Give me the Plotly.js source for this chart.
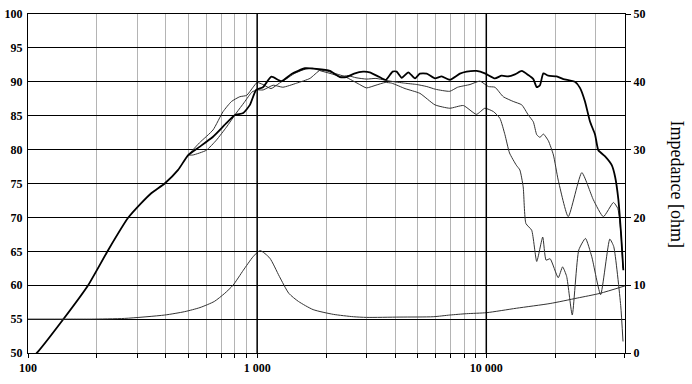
<!DOCTYPE html>
<html>
<head>
<meta charset="utf-8">
<script src="https://cdn.plot.ly/plotly-3.0.1.min.js"></script>
<style>html,body{margin:0;padding:0;background:#fff;}#chart{width:692px;height:384px;}</style>
</head>
<body>
<div id="chart"></div>
<script>
// ---- data ----
const freqOn = [105, 110.6, 142, 183, 224, 273, 312, 346, 395, 452, 500, 560, 642, 734, 800, 870, 930, 990, 1060, 1154, 1276, 1413, 1618, 1816, 2077, 2295, 2450, 2650, 2900, 3100, 3420, 3650, 3900, 4064, 4276, 4566, 4885, 5130, 5495, 5970, 6385, 6935, 7670, 8205, 9075, 9860, 10910, 11660, 12470, 13340, 14280, 15250, 16040, 16600, 17150, 17740, 18660, 20280, 21680, 24380, 25630, 26960, 28370, 29840, 30830, 32990, 35280, 36480, 37710, 38730, 39630];
const splOn = [49.4, 50.2, 54.9, 60.0, 65.2, 69.9, 72.1, 73.6, 75.0, 77.0, 79.2, 80.4, 81.9, 83.9, 85.1, 85.4, 86.6, 88.8, 89.2, 90.75, 90.1, 91.15, 92.0, 91.9, 91.6, 90.7, 90.7, 91.2, 91.5, 91.4, 90.7, 90.3, 91.5, 91.5, 90.6, 91.4, 90.5, 91.2, 91.2, 90.5, 90.8, 90.3, 91.2, 91.5, 91.6, 91.25, 90.5, 90.9, 90.8, 91.1, 91.6, 91.0, 90.4, 89.2, 89.5, 91.25, 90.9, 90.8, 90.4, 90.0, 89.1, 87.1, 84.1, 82.2, 79.9, 79.0, 77.7, 76.0, 72.6, 67.6, 62.2];

const freqOff1 = [500, 560, 642, 710, 773, 840, 900, 960, 1000, 1060, 1150, 1250, 1350, 1450, 1600, 1750, 1900, 2100, 2300, 2500, 2700, 3000, 3300, 3800, 4400, 4970, 5500, 6000, 6930, 7500, 8490, 9380, 10210, 10910, 11860, 13110, 14280, 15250, 16040, 16600, 17150, 17740, 18660, 19630, 20600, 22780, 26110, 29320, 32420, 35870, 37500, 38700, 39500];
const splOff1 = [79.2, 81.0, 82.9, 85.6, 87.1, 87.8, 88.0, 89.2, 89.9, 89.6, 89.0, 89.8, 90.5, 91.2, 91.8, 92.0, 91.6, 91.2, 90.8, 90.9, 90.6, 90.4, 90.5, 90.1, 89.8, 89.6, 89.3, 88.9, 88.6, 89.2, 89.6, 90.1, 89.3, 89.2, 87.8, 87.1, 86.6, 85.1, 84.1, 82.2, 81.8, 82.3, 81.3, 79.2, 75.5, 70.1, 76.6, 72.6, 70.1, 72.2, 71.3, 67.6, 62.5];

const freqOff2 = [500, 524, 600, 664, 734, 811, 880, 950, 1000, 1062, 1175, 1295, 1487, 1700, 1880, 2000, 2150, 2400, 2600, 2800, 3000, 3300, 3620, 3865, 4420, 5130, 5970, 6930, 7940, 9060, 9860, 10750, 11470, 12060, 12630, 13520, 14010, 14490, 14890, 15780, 16600, 17630, 18230, 18990, 20600, 21520, 22420, 23720, 25330, 27090, 28860, 31540, 34590, 35980, 38600, 39500];
const splOff2 = [79.2, 79.2, 79.9, 81.4, 83.3, 85.4, 87.0, 88.5, 88.8, 88.8, 89.5, 89.2, 89.8, 90.5, 91.7, 91.6, 91.3, 90.8, 90.2, 89.6, 89.1, 89.5, 89.9, 89.8, 89.0, 88.3, 86.6, 86.1, 86.5, 85.2, 86.1, 85.6, 84.6, 82.2, 79.5, 77.7, 77.0, 74.5, 69.1, 68.1, 63.5, 67.1, 63.7, 63.9, 61.1, 62.7, 61.3, 55.6, 65.2, 66.9, 64.2, 58.6, 66.8, 65.7, 57.0, 51.7];

const freqImp = [100, 150, 189, 264, 395, 483, 563, 650, 722, 785, 870, 960, 1030, 1135, 1250, 1375, 1515, 1755, 2150, 2630, 3000, 4200, 5870, 6935, 8205, 10040, 13520, 18990, 24920, 31360, 40300];
const impedance = [5.0, 5.0, 5.0, 5.1, 5.6, 6.1, 6.7, 7.6, 8.8, 10.0, 12.2, 14.2, 15.1, 14.0, 11.3, 8.8, 7.6, 6.4, 5.7, 5.35, 5.25, 5.3, 5.35, 5.6, 5.8, 5.95, 6.6, 7.3, 8.1, 8.8, 9.9];

const xTickVals = [100,200,300,400,500,600,700,800,900,1000,2000,3000,4000,5000,6000,7000,8000,9000,10000,20000,30000,40000];
const xTickText = ['100','','','','','','','','','1 000','','','','','','','','','10 000','','',''];
const majorFreqs = [1000, 10000];
const yTickVals = [50,55,60,65,70,75,80,85,90,95,100];
const y2TickVals = [0,10,20,30,40,50];
const y2Title = 'Impedance [ohm]';

// ---- chart ----
const serif = 'Liberation Serif, Times New Roman, serif';
const traces = [
  {x: freqImp, y: impedance, yaxis: 'y2', mode: 'lines', line: {color: '#333', width: 1, shape: 'spline', smoothing: 0.6}, hoverinfo: 'skip'},
  {x: freqOff2, y: splOff2, mode: 'lines', line: {color: '#333', width: 1, shape: 'spline', smoothing: 0.5}, hoverinfo: 'skip'},
  {x: freqOff1, y: splOff1, mode: 'lines', line: {color: '#333', width: 1, shape: 'spline', smoothing: 0.5}, hoverinfo: 'skip'},
  {x: freqOn, y: splOn, mode: 'lines', line: {color: '#000', width: 1.8, shape: 'spline', smoothing: 0.5}, hoverinfo: 'skip'}
];

const shapes = majorFreqs.map(f => ({
  type: 'line', xref: 'x', yref: 'paper', x0: f, x1: f, y0: 0, y1: 1,
  line: {color: '#000', width: 1.5}, layer: 'above'
}));

const layout = {
  width: 692, height: 384,
  margin: {l: 28, r: 67, t: 14, b: 31, pad: 0},
  paper_bgcolor: '#fff', plot_bgcolor: '#fff',
  showlegend: false,
  font: {family: serif, color: '#000'},
  xaxis: {
    type: 'log', range: [2, Math.log10(40300)],
    tickvals: xTickVals, ticktext: xTickText,
    showgrid: true, gridcolor: '#b4b4b4', gridwidth: 1,
    ticks: 'outside', ticklen: 4, tickcolor: '#000', tickwidth: 1,
    showline: true, linecolor: '#000', linewidth: 1, mirror: true,
    zeroline: false,
    tickfont: {family: serif, size: 12, weight: 'bold', color: '#000'}
  },
  yaxis: {
    range: [50, 100], tickvals: yTickVals,
    showgrid: true, gridcolor: '#000', gridwidth: 1,
    ticks: '', showline: true, linecolor: '#000', linewidth: 1, mirror: true,
    zeroline: false, ticklabelstandoff: 2,
    tickfont: {family: serif, size: 12, weight: 'bold', color: '#000'}
  },
  yaxis2: {
    overlaying: 'y', side: 'right', range: [0, 50], tickvals: y2TickVals,
    showgrid: false, zeroline: false,
    ticks: 'outside', ticklen: 5, tickcolor: '#000', tickwidth: 1,
    showline: false,
    tickfont: {family: serif, size: 12, weight: 'bold', color: '#000'}
  },
  shapes: shapes,
  annotations: [{
    text: y2Title, xref: 'paper', yref: 'paper', x: 1, y: 0.5,
    xanchor: 'center', yanchor: 'middle', xshift: 52, textangle: 90,
    showarrow: false, font: {family: serif, size: 18, color: '#000'}
  }]
};

Plotly.newPlot('chart', traces, layout, {staticPlot: true, displayModeBar: false});
</script>
</body>
</html>
